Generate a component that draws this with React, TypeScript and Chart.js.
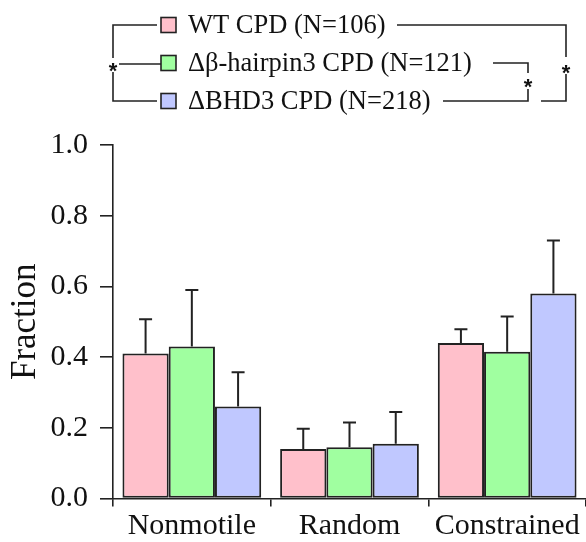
import React, { useEffect, useRef } from "react";
import { Chart, registerables } from "chart.js";

Chart.register(...registerables);

const categories = ["Nonmotile", "Random", "Constrained"];
const seriesLabels = ["WT CPD (N=106)", "\u0394\u03b2-hairpin3 CPD (N=121)", "\u0394BHD3 CPD (N=218)"];
const wtValues = [0.41, 0.14, 0.44];
const wtErrors = [0.097, 0.057, 0.039];
const hairpinValues = [0.43, 0.145, 0.415];
const hairpinErrors = [0.16, 0.07, 0.1];
const bhdValues = [0.26, 0.155, 0.58];
const bhdErrors = [0.097, 0.09, 0.15];
const seriesColors = ["#FFC0CB", "#A0FFA0", "#C0C8FF"];
const yMin = 0;
const yMax = 1;
const yStep = 0.2;

const SERIF = "'Liberation Serif', 'Times New Roman', serif";
const INK = "#222222";

const errorBarPlugin = {
  id: "errorBars",
  afterDatasetsDraw(chart: any) {
    const ctx = chart.ctx;
    const yScale = chart.scales.y;
    ctx.save();
    ctx.strokeStyle = INK;
    ctx.lineWidth = 2;
    chart.data.datasets.forEach((ds: any, di: number) => {
      const meta = chart.getDatasetMeta(di);
      meta.data.forEach((bar: any, i: number) => {
        const v = ds.data[i];
        const e = ds.errors[i];
        const yTop = yScale.getPixelForValue(v + e);
        const yBar = yScale.getPixelForValue(v);
        ctx.beginPath();
        ctx.moveTo(bar.x, yBar);
        ctx.lineTo(bar.x, yTop);
        ctx.moveTo(bar.x - 6.5, yTop);
        ctx.lineTo(bar.x + 6.5, yTop);
        ctx.stroke();
      });
    });
    ctx.restore();
  },
};

const legendPlugin = {
  id: "bracketLegend",
  afterDraw(chart: any) {
    const ctx = chart.ctx;
    const rows = [25, 63, 101];
    ctx.save();
    ctx.lineWidth = 1.6;
    ctx.strokeStyle = INK;
    ctx.font = `26.5px ${SERIF}`;
    ctx.textBaseline = "middle";
    ctx.textAlign = "left";
    chart.data.datasets.forEach((ds: any, i: number) => {
      const y = rows[i];
      ctx.fillStyle = ds.backgroundColor;
      ctx.fillRect(161, y - 7.5, 15, 15);
      ctx.strokeRect(161, y - 7.5, 15, 15);
      ctx.fillStyle = "#111";
      ctx.fillText(ds.label, 188, y + 1);
    });

    const line = (pts: number[][]) => {
      ctx.beginPath();
      ctx.moveTo(pts[0][0], pts[0][1]);
      for (let k = 1; k < pts.length; k++) ctx.lineTo(pts[k][0], pts[k][1]);
      ctx.stroke();
    };
    // left bracket
    line([[157, 25], [113, 25], [113, 58]]);
    line([[113, 72], [113, 101], [157, 101]]);
    line([[119, 64], [161, 64]]);
    // right bracket WT vs BHD3
    line([[397, 25], [566, 25], [566, 57]]);
    line([[566, 74], [566, 101], [541, 101]]);
    // right bracket hairpin vs BHD3
    line([[493, 63], [528, 63], [528, 73]]);
    line([[528, 89], [528, 101], [443, 101]]);

    ctx.fillStyle = "#111";
    ctx.font = `bold 22px 'Liberation Sans', Arial, sans-serif`;
    ctx.textAlign = "center";
    ctx.textBaseline = "alphabetic";
    const star = (x: number, y: number) => ctx.fillText("*", x, y + 13);
    star(113, 65);
    star(566, 67);
    star(528, 81);
    ctx.restore();
  },
};

export default function App() {
  const canvasRef = useRef<HTMLCanvasElement | null>(null);

  useEffect(() => {
    const canvas = canvasRef.current;
    if (!canvas) return;
    const errorsList = [wtErrors, hairpinErrors, bhdErrors];
    const valuesList = [wtValues, hairpinValues, bhdValues];
    const chart = new Chart(canvas, {
      type: "bar",
      data: {
        labels: categories,
        datasets: seriesLabels.map((label, i) => ({
          label,
          data: valuesList[i],
          errors: errorsList[i],
          backgroundColor: seriesColors[i],
          borderColor: INK,
          borderWidth: 2,
          borderSkipped: false,
          categoryPercentage: 0.88,
          barPercentage: 1.0,
        })) as any,
      },
      options: {
        animation: false,
        responsive: false,
        maintainAspectRatio: false,
        layout: { padding: { top: 145, right: 0, bottom: 0, left: 0 } },
        plugins: {
          legend: { display: false },
          tooltip: { enabled: false },
        },
        scales: {
          x: {
            afterFit: (s: any) => {
              s.height = 43.5;
            },
            grid: {
              display: true,
              drawOnChartArea: false,
              drawTicks: true,
              tickLength: 8,
              color: INK,
              lineWidth: 1.6,
              offset: true,
            },
            border: { display: true, color: INK, width: 1.6 },
            ticks: {
              color: "#111",
              font: { family: SERIF, size: 30 },
              padding: 2,
              maxRotation: 0,
            },
          },
          y: {
            min: yMin,
            max: yMax,
            afterFit: (s: any) => {
              s.width = 113;
            },
            grid: {
              display: true,
              drawOnChartArea: false,
              drawTicks: true,
              tickLength: 13,
              color: INK,
              lineWidth: 1.6,
            },
            border: { display: true, color: INK, width: 1.6 },
            ticks: {
              stepSize: yStep,
              color: "#111",
              font: { family: SERIF, size: 30 },
              padding: 12,
              callback: (v: any) => Number(v).toFixed(1),
            },
            title: {
              display: true,
              text: "Fraction",
              color: "#111",
              font: { family: SERIF, size: 35 },
              padding: { top: 5, bottom: 0 },
            },
          },
        },
      },
      plugins: [errorBarPlugin, legendPlugin],
    });
    return () => chart.destroy();
  }, []);

  return (
    <div style={{ position: "absolute", left: 0, top: 0, width: 586, height: 542, background: "#fff" }}>
      <canvas ref={canvasRef} width={586} height={542} style={{ width: 586, height: 542 }} />
    </div>
  );
}
